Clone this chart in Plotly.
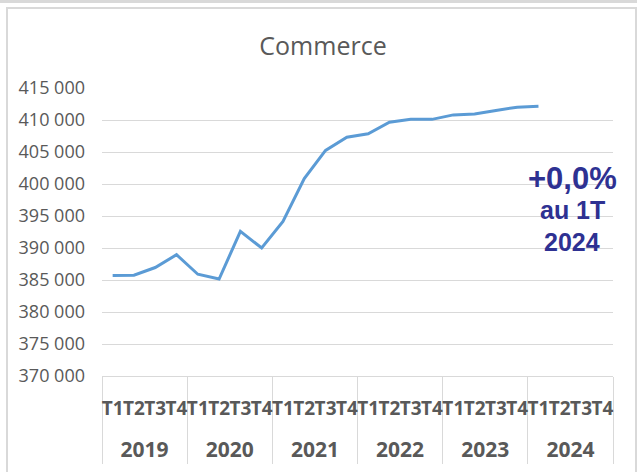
import plotly.graph_objects as go

# ---- data ----
years = ["2019", "2020", "2021", "2022", "2023", "2024"]
quarters = ["T1", "T2", "T3", "T4"]
values = [
    385700, 385750, 386950, 388950,   # 2019
    385900, 385150, 392600, 390000,   # 2020
    394150, 400850, 405250, 407300,   # 2021
    407850, 409650, 410100, 410100,   # 2022
    410800, 410950, 411500, 412000,   # 2023
    412150, None, None, None,         # 2024
]
title_text = "Commerce"
note_lines = ["+0,0%", "au 1T", "2024"]

x_years = [y for y in years for _ in quarters]
x_quarters = ["<span style='font-size:19px'>%s</span><br> " % q for _ in years for q in quarters]

W, H = 637, 472
L, R, T, B = 102, 24, 88, 96
PW, PH = W - L - R, H - T - B

def px(xp):
    return (xp - L) / PW

def py(yp):
    return (H - B - yp) / PH

fig = go.Figure()
fig.add_trace(go.Scatter(
    x=[x_years, x_quarters], y=values, mode="lines",
    line=dict(color="#5B9BD5", width=3), connectgaps=False,
    hoverinfo="skip", showlegend=False,
))

grey = "#595959"
fig.update_layout(
    width=W, height=H,
    margin=dict(l=L, r=R, t=T, b=B, autoexpand=False),
    paper_bgcolor="white", plot_bgcolor="white",
    separators=", ",
    title=dict(text=title_text, x=323 / W, xanchor="center", y=1 - 46 / H, yanchor="middle",
               font=dict(family="Open Sans", size=25, color=grey)),
    xaxis=dict(
        type="multicategory", showgrid=False, zeroline=False, automargin=False,
        range=[-0.5, len(x_years) - 0.5], autorange=False,
        showline=True, linecolor="#D9D9D9", linewidth=1,
        showdividers=True, dividercolor="#D9D9D9", dividerwidth=1,
        tickmode="linear", tick0=0, dtick=1,
        tickangle=0, ticks="", ticklabelstandoff=13,
        tickfont=dict(family="Open Sans", size=21, color=grey, weight="bold"),
    ),
    yaxis=dict(
        range=[370000, 415000], dtick=5000, tick0=370000, automargin=False,
        tickformat=",d", showgrid=True, gridcolor="#D9D9D9", gridwidth=1,
        zeroline=False, showline=False, ticks="", ticklabelstandoff=16,
        tickfont=dict(family="Open Sans", size=18, color=grey),
    ),
)

# chart frame and line above
fig.add_shape(type="line", xref="paper", yref="paper",
              x0=px(-5), x1=px(W + 5), y0=py(1.5), y1=py(1.5),
              line=dict(color="#D9D9D9", width=3))
fig.add_shape(type="rect", xref="paper", yref="paper",
              x0=px(7), x1=px(636), y0=py(H + 10), y1=py(8),
              line=dict(color="#D9D9D9", width=2), fillcolor="rgba(0,0,0,0)")

navy = "#2E3192"
for text, yc, size in zip(note_lines, [178, 210, 242], [31, 25, 25]):
    fig.add_annotation(text="<b>%s</b>" % text, xref="paper", yref="paper",
                       x=px(572), y=py(yc), xanchor="center", yanchor="middle",
                       showarrow=False,
                       font=dict(family="Liberation Sans", size=size, color=navy))

fig.write_html("out.html", config={"displayModeBar": False},
               post_script="document.body.style.margin='0';")
